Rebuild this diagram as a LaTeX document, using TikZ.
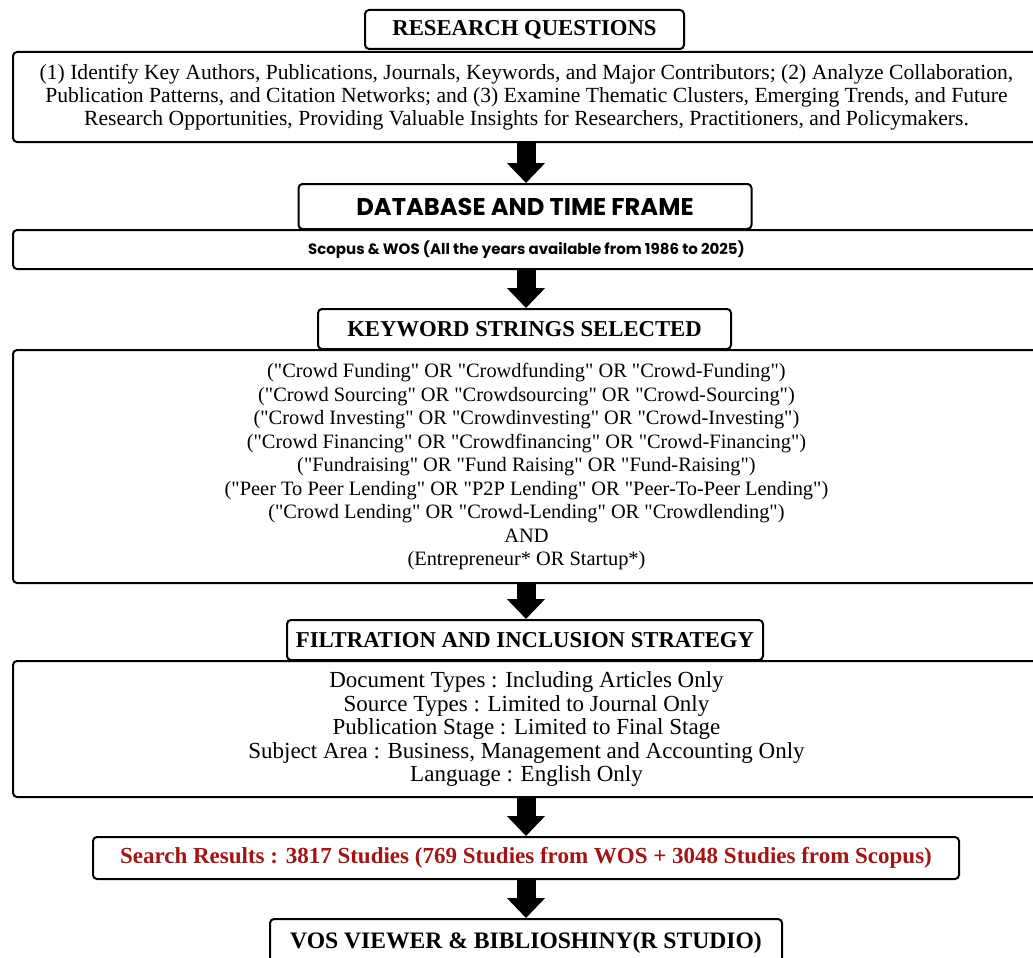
\documentclass[tikz,border=0pt]{standalone}
\usepackage{fontspec}
\setmainfont{Liberation Serif}[Ligatures=TeXOff]
\newfontfamily\popfont{Poppins}
\usetikzlibrary{arrows.meta}
\definecolor{resred}{HTML}{A31515}
\newcommand{\dq}{\symbol{34}}
\tikzset{
  box/.style={draw=black, line width=2pt, rounded corners=4pt, fill=white, inner sep=0pt, align=center},
  titlebox/.style={box, font=\fontsize{22.7}{25}\selectfont\bfseries},
  bigarrow/.style={line width=19pt, -{Triangle[width=37pt,length=20pt]}}
}
\begin{document}
\begin{tikzpicture}[x=1pt,y=-1pt]
\useasboundingbox (0,0) rectangle (1033,958);
\clip (0,0) rectangle (1033,958);
% research questions
\node[box, minimum width=1027pt, minimum height=90pt, font=\fontsize{21.6}{23}\selectfont] (rqb) at (526.5,97)
 {(1) Identify Key Authors, Publications, Journals, Keywords, and Major Contributors; (2) Analyze Collaboration,\\
 Publication Patterns, and Citation Networks; and (3) Examine Thematic Clusters, Emerging Trends, and Future\\
 Research Opportunities, Providing Valuable Insights for Researchers, Practitioners, and Policymakers.};
\node[titlebox, minimum width=319pt, minimum height=39pt] (rqt) at (524.5,29.5) {RESEARCH QUESTIONS};
% database
\node[box, minimum width=1027pt, minimum height=39pt, font=\popfont\bfseries\fontsize{15}{18}\selectfont] (dbb) at (526.5,249.5)
 {Scopus \& WOS (All the years available from 1986 to 2025)};
\node[box, minimum width=453pt, minimum height=45pt, font=\popfont\bfseries\fontsize{24.2}{27}\selectfont] (dbt) at (525,206.5) {DATABASE AND TIME FRAME};
% keywords
\node[box, minimum width=1027pt, minimum height=233pt, font=\fontsize{20.4}{23.5}\selectfont] (kwb) at (526.5,466.5)
 {(\dq Crowd Funding\dq{} OR \dq Crowdfunding\dq{} OR \dq Crowd-Funding\dq)\\
 (\dq Crowd Sourcing\dq{} OR \dq Crowdsourcing\dq{} OR \dq Crowd-Sourcing\dq)\\
 (\dq Crowd Investing\dq{} OR \dq Crowdinvesting\dq{} OR \dq Crowd-Investing\dq)\\
 (\dq Crowd Financing\dq{} OR \dq Crowdfinancing\dq{} OR \dq Crowd-Financing\dq)\\
 (\dq Fundraising\dq{} OR \dq Fund Raising\dq{} OR \dq Fund-Raising\dq)\\
 (\dq Peer To Peer Lending\dq{} OR \dq P2P Lending\dq{} OR \dq Peer-To-Peer Lending\dq)\\
 (\dq Crowd Lending\dq{} OR \dq Crowd-Lending\dq{} OR \dq Crowdlending\dq)\\
 AND\\
 (Entrepreneur* OR Startup*)};
\node[titlebox, minimum width=413pt, minimum height=40pt] (kwt) at (524.5,329) {KEYWORD STRINGS SELECTED};
% filtration
\node[box, minimum width=1027pt, minimum height=136pt, font=\fontsize{23}{23.5}\selectfont] (fb) at (526.5,729)
 {Document Types : Including Articles Only\\
 Source Types : Limited to Journal Only\\
 Publication Stage : Limited to Final Stage\\
 Subject Area : Business, Management and Accounting Only\\
 Language : English Only};
\node[titlebox, minimum width=476pt, minimum height=40pt] (ft) at (525,640) {FILTRATION AND INCLUSION STRATEGY};
% search results
\node[titlebox, font=\fontsize{23}{25}\selectfont\bfseries, text=resred, minimum width=866pt, minimum height=42pt] (sr) at (526,858)
 {Search Results : 3817 Studies (769 Studies from WOS + 3048 Studies from Scopus)};
% tools
\node[titlebox, minimum width=512pt, minimum height=52pt, anchor=north] (vos) at (526,918) {};
\node[font=\fontsize{23.6}{25}\selectfont\bfseries, anchor=base] (vost) at (526,948) {VOS VIEWER \& BIBLIOSHINY(R STUDIO)};
% arrows
\draw[bigarrow] (rqb.south -| 526,0) -- (dbt.north -| 526,0);
\draw[bigarrow] (dbb.south -| 526,0) -- (kwt.north -| 526,0);
\draw[bigarrow] (kwb.south -| 526,0) -- (ft.north -| 526,0);
\draw[bigarrow] (fb.south -| 526,0) -- (sr.north -| 526,0);
\draw[bigarrow] (sr.south -| 526,0) -- (vos.north -| 526,0);
\end{tikzpicture}
\end{document}
